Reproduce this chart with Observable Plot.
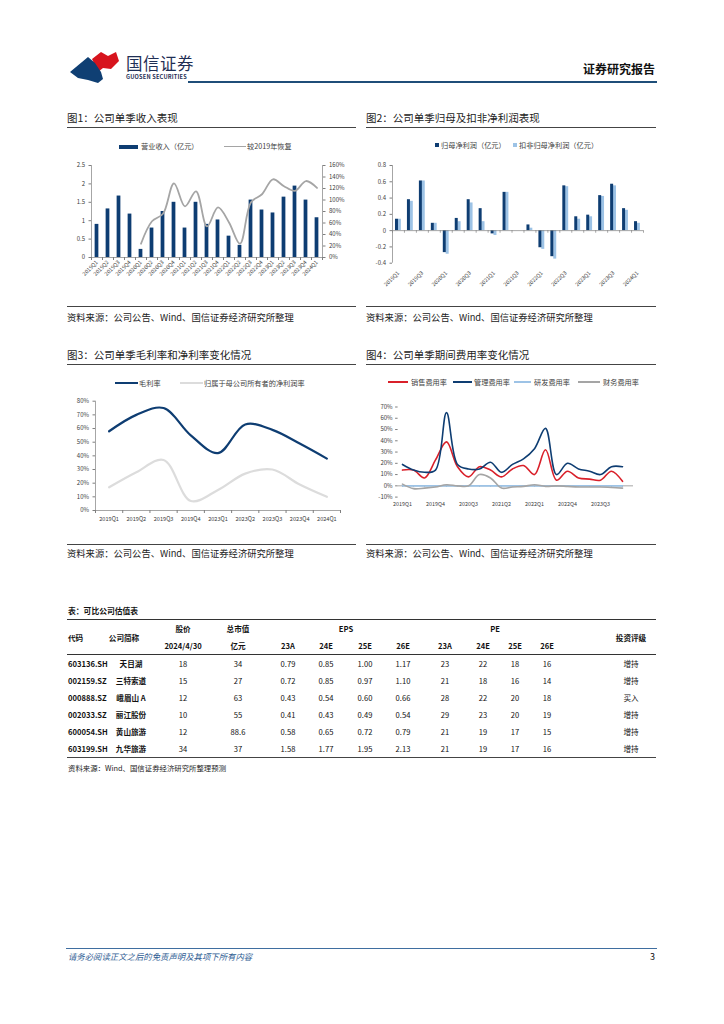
<!DOCTYPE html>
<html><head><meta charset="utf-8">
<script src="https://cdn.jsdelivr.net/npm/d3@7"></script>
<script src="https://cdn.jsdelivr.net/npm/@observablehq/plot@0.6"></script>
<style>
html,body{margin:0;padding:0;background:#fff;}
body{width:724px;height:1024px;position:relative;overflow:hidden;font-family:"Noto Sans CJK SC","Noto Sans",sans-serif;color:#222;}
.a{position:absolute;white-space:nowrap;}
.ttl{font-size:10.5px;line-height:12px;color:#222;}
.hr{position:absolute;height:1px;background:#444;}
.src{font-size:9.3px;line-height:12px;color:#222;}
.lg{font-size:7.2px;line-height:9px;color:#404040;}
.tb{font-size:7.6px;line-height:10px;color:#111;}
.b{font-weight:bold;}
</style></head><body>

<svg class="a" style="left:68px;top:50px" width="56" height="36" viewBox="0 0 56 36">
  <path d="M24,9 L33,2 L40,6 L48,2 L51,11 L43,19 L35,18 L30,22 Z" fill="#d7141d"/>
  <path d="M2,22 L20,7 L27,13 L33,22 L35,29 L30,33 L20,30 L10,28 Z" fill="#0f3f73"/>
</svg>
<div class="a" style="left:126px;top:53px;font-size:16.5px;line-height:20px;color:#1f2f55;letter-spacing:0.5px">国信证券</div>
<div class="a" style="left:126px;top:74px;font-size:5.6px;line-height:7px;color:#1f2f55;font-weight:bold;letter-spacing:0.2px">GUOSEN SECURITIES</div>
<div class="a b" style="left:583px;top:62px;font-size:12px;line-height:14px;color:#111">证券研究报告</div>
<div class="hr" style="left:188px;top:81px;width:469px;height:2px;background:#1f4e79"></div>

<div class="a ttl" style="left:67px;top:112px">图1：公司单季收入表现</div>
<div class="hr" style="left:67px;top:126.5px;width:289px"></div>
<div class="a ttl" style="left:366px;top:112px">图2：公司单季归母及扣非净利润表现</div>
<div class="hr" style="left:366px;top:126.5px;width:290px"></div>
<div class="hr" style="left:67px;top:306px;width:289px"></div>
<div class="hr" style="left:366px;top:306px;width:290px"></div>
<div class="a src" style="left:67px;top:311px">资料来源：公司公告、Wind、国信证券经济研究所整理</div>
<div class="a src" style="left:366px;top:311px">资料来源：公司公告、Wind、国信证券经济研究所整理</div>

<div class="a ttl" style="left:67px;top:349px">图3：公司单季毛利率和净利率变化情况</div>
<div class="hr" style="left:67px;top:363.5px;width:289px"></div>
<div class="a ttl" style="left:366px;top:349px">图4：公司单季期间费用率变化情况</div>
<div class="hr" style="left:366px;top:363.5px;width:290px"></div>
<div class="hr" style="left:67px;top:543.5px;width:289px"></div>
<div class="hr" style="left:366px;top:543.5px;width:290px"></div>
<div class="a src" style="left:67px;top:547px">资料来源：公司公告、Wind、国信证券经济研究所整理</div>
<div class="a src" style="left:366px;top:547px">资料来源：公司公告、Wind、国信证券经济研究所整理</div>

<!-- legends -->
<div class="a" style="left:119px;top:144.5px;width:19px;height:4px;background:#0e3d72"></div>
<div class="a lg" style="left:141px;top:142px">营业收入（亿元）</div>
<div class="a" style="left:224px;top:145.8px;width:22px;height:1.6px;background:#a5a5a5"></div>
<div class="a lg" style="left:247px;top:142px">较2019年恢复</div>

<div class="a" style="left:435px;top:143px;width:4px;height:4px;background:#0e3d72"></div>
<div class="a lg" style="left:441px;top:140.5px">归母净利润（亿元）</div>
<div class="a" style="left:513px;top:143px;width:4px;height:4px;background:#9dc3e6"></div>
<div class="a lg" style="left:519px;top:140.5px">扣非归母净利润（亿元）</div>

<div class="a" style="left:115px;top:382px;width:23px;height:2px;background:#0e3d72"></div>
<div class="a lg" style="left:139px;top:378.5px">毛利率</div>
<div class="a" style="left:180px;top:382px;width:23px;height:2px;background:#dcdcdc"></div>
<div class="a lg" style="left:204px;top:378.5px">归属于母公司所有者的净利润率</div>

<div class="a" style="left:388px;top:381px;width:20px;height:1.6px;background:#d9202a"></div>
<div class="a lg" style="left:411px;top:377.5px">销售费用率</div>
<div class="a" style="left:453px;top:381px;width:19px;height:1.6px;background:#0e3d72"></div>
<div class="a lg" style="left:474px;top:377.5px">管理费用率</div>
<div class="a" style="left:514px;top:381px;width:17px;height:1.6px;background:#9dc3e6"></div>
<div class="a lg" style="left:534px;top:377.5px">研发费用率</div>
<div class="a" style="left:578px;top:381px;width:22px;height:1.6px;background:#a5a5a5"></div>
<div class="a lg" style="left:603px;top:377.5px">财务费用率</div>

<!-- table frame -->
<div class="a b" style="left:68px;top:606px;font-size:7.8px;line-height:10px;color:#111">表：可比公司估值表</div>
<div class="hr" style="left:67px;top:619px;width:589px;background:#333"></div>
<div class="hr" style="left:67px;top:653.5px;width:589px;height:1.6px;background:#333"></div>
<div class="hr" style="left:67px;top:757px;width:589px;height:1.2px;background:#444"></div>
<div class="a" style="left:68px;top:763px;font-size:7.4px;line-height:10px;color:#222">资料来源：Wind、国信证券经济研究所整理预测</div>

<div class="hr" style="left:66px;top:947.5px;width:591px;background:#3f6ea0"></div>
<div class="a" style="left:68px;top:951px;font-size:8.4px;line-height:11px;color:#2f5d93;font-style:italic">请务必阅读正文之后的免责声明及其项下所有内容</div>
<div class="a" style="left:650px;top:951px;font-size:9px;line-height:11px;color:#111">3</div>

<script>
// ---------- data ----------
const quarters = ["2019Q1","2019Q2","2019Q3","2019Q4","2020Q1","2020Q2","2020Q3","2020Q4","2021Q1","2021Q2","2021Q3","2021Q4","2022Q1","2022Q2","2022Q3","2022Q4","2023Q1","2023Q2","2023Q3","2023Q4","2024Q1"];
// Fig1
const revenue = [0.90,1.32,1.67,1.18,0.22,0.80,1.25,1.50,0.80,1.50,0.90,1.02,0.58,0.33,1.56,1.29,1.21,1.64,1.94,1.56,1.08];
const recoveryVs2019 = [null,null,null,null,24,63,76,129,89,115,54,87,61,24,96,110,136,124,116,133,121];
const fig1LeftTicks = [0,0.5,1,1.5,2,2.5];
const fig1RightTicks = [0,20,40,60,80,100,120,140,160];
// Fig2
const netProfit = [0.14,0.38,0.61,0.09,-0.27,0.15,0.38,0.27,-0.04,0.47,0.00,0.07,-0.21,-0.32,0.55,0.17,0.19,0.43,0.57,0.27,0.11];
const deductedProfit = [0.14,0.36,0.61,0.09,-0.29,0.11,0.34,0.11,-0.06,0.47,0.00,0.03,-0.23,-0.35,0.54,0.14,0.17,0.42,0.55,0.25,0.09];
const fig2Ticks = [-0.4,-0.2,0,0.2,0.4,0.6,0.8];
// Fig3
const marginQuarters = ["2019Q1","2019Q2","2019Q3","2019Q4","2023Q1","2023Q2","2023Q3","2023Q4","2024Q1"];
const grossMargin = [58,70,75,55,42,63,59,49,38];
const netMargin = [17,28,37,7,15,27,30,19,10];
const fig3Ticks = [0,10,20,30,40,50,60,70,80];
// Fig4
const sellingRate = [14,14,7,23,39,17,8,17,14,8,15,18,10,32,5,13,7,6,5,13,4];
const adminRate = [19,14,12,14,65,19,15,15,21,12,19,24,33,51,10,20,15,13,10,17,17];
const rdRate = [0,0,0,0,0,0,0,0,0,0,0,0,0,0,0,0,0,0,0,0,0];
const financeRate = [1.5,-2.5,-2,-1,1,0,0,10,7,-2,-1,-0.5,1,-0.5,0,-0.5,-1,-1,-1,-1.5,-2];
const fig4Ticks = [-10,0,10,20,30,40,50,60,70];
const fig4Labels = ["2019Q1","2019Q4","2020Q3","2021Q2","2022Q1","2022Q4","2023Q3"];
// Table
const tableCodes = ["603136.SH","002159.SZ","000888.SZ","002033.SZ","600054.SH","603199.SH"];
const tableNames = ["天目湖","三特索道","峨眉山 A","丽江股份","黄山旅游","九华旅游"];
const tablePrice = ["18","15","12","10","12","34"];
const tableMcap = ["34","27","63","55","88.6","37"];
const eps23A = ["0.79","0.72","0.43","0.41","0.58","1.58"];
const eps24E = ["0.85","0.85","0.54","0.43","0.65","1.77"];
const eps25E = ["1.00","0.97","0.60","0.49","0.72","1.95"];
const eps26E = ["1.17","1.10","0.66","0.54","0.79","2.13"];
const pe23A = ["23","21","28","29","21","21"];
const pe24E = ["22","18","22","23","19","19"];
const pe25E = ["18","16","20","20","17","17"];
const pe26E = ["16","14","18","19","15","16"];
const tableRating = ["增持","增持","买入","增持","增持","增持"];

// ---------- helpers ----------
const FONT = "'Noto Sans CJK SC','Noto Sans',sans-serif";
const AX = "#7f7f7f";
function place(el, left, top){ el.style.position="absolute"; el.style.left=left+"px"; el.style.top=top+"px"; document.body.appendChild(el); }
const baseStyle = {fontFamily:FONT, fontSize:"6px", color:"#404040", background:"transparent", overflow:"visible"};

// ---------- Fig1 ----------
{
  const k = 2.5/160;
  const bars = quarters.map((q,i)=>({i, v:revenue[i]}));
  const line = quarters.map((q,i)=>({i, v:recoveryVs2019[i]})).filter(d=>d.v!=null);
  const bounds = d3.range(-0.5, 21, 1);
  const c = Plot.plot({
    width:300, height:145, marginLeft:29, marginRight:40, marginTop:10, marginBottom:43,
    style:baseStyle,
    x:{domain:[-0.5,20.5]}, y:{domain:[0,2.5]},
    marks:[
      Plot.rectY(bars,{x1:d=>d.i-0.17, x2:d=>d.i+0.17, y1:0, y2:"v", fill:"#0e3d72"}),
      Plot.line(line,{x:"i", y:d=>d.v*k, stroke:"#a5a5a5", strokeWidth:1.8, curve:"catmull-rom"}),
      Plot.ruleX([-0.5],{stroke:AX, strokeWidth:0.7}),
      Plot.ruleX([20.5],{stroke:AX, strokeWidth:0.7}),
      Plot.ruleY([0],{stroke:AX, strokeWidth:0.7}),
      Plot.axisY({ticks:fig1LeftTicks, tickFormat:d=>String(d), tickSize:2.5, tickPadding:4, label:null, stroke:AX}),
      Plot.axisY({anchor:"right", ticks:fig1RightTicks.map(t=>t*k), tickFormat:d=>Math.round(d/k)+"%", tickSize:2.5, tickPadding:4, label:null, stroke:AX}),
      Plot.axisX({ticks:bounds, tickFormat:()=>"", tickSize:3, label:null, stroke:AX}),
      Plot.axisX({ticks:d3.range(21), tickFormat:i=>quarters[i], tickSize:0, tickPadding:4, tickRotate:-45, fontSize:5.4, label:null})
    ]
  });
  place(c, 62, 155);
}

// ---------- Fig2 ----------
{
  const dark = quarters.map((q,i)=>({i, v:netProfit[i]}));
  const light = quarters.map((q,i)=>({i, v:deductedProfit[i]}));
  const bounds = d3.range(-0.5, 21, 1);
  const c = Plot.plot({
    width:296, height:145, marginLeft:30, marginRight:15, marginTop:10, marginBottom:37.3,
    style:baseStyle,
    x:{domain:[-0.5,20.5]}, y:{domain:[-0.4,0.8]},
    marks:[
      Plot.rectY(light,{x1:d=>d.i-0.01, x2:d=>d.i+0.24, y1:0, y2:"v", fill:"#9dc3e6"}),
      Plot.rectY(dark,{x1:d=>d.i-0.25, x2:d=>d.i, y1:0, y2:"v", fill:"#0e3d72"}),
      Plot.ruleX([-0.5],{stroke:AX, strokeWidth:0.7}),
      Plot.ruleY([0],{stroke:AX, strokeWidth:0.7}),
      Plot.ruleX(bounds,{x:d=>d, y1:0, y2:-0.032, stroke:AX, strokeWidth:0.7}),
      Plot.axisY({ticks:fig2Ticks, tickFormat:d=>d===0?"0":d.toFixed(1), tickSize:2.5, tickPadding:4, label:null, stroke:AX}),
      Plot.axisX({ticks:d3.range(0,21,2), tickFormat:i=>quarters[i], tickSize:0, tickPadding:9, tickRotate:-45, fontSize:5.4, label:null})
    ]
  });
  place(c, 362, 155);
}

// ---------- Fig3 ----------
{
  const g = marginQuarters.map((q,i)=>({i, v:grossMargin[i]}));
  const n = marginQuarters.map((q,i)=>({i, v:netMargin[i]}));
  const c = Plot.plot({
    width:298, height:140, marginLeft:33, marginRight:20, marginTop:10.7, marginBottom:20,
    style:baseStyle,
    x:{domain:[-0.5,8.5]}, y:{domain:[0,80]},
    marks:[
      Plot.line(n,{x:"i", y:"v", stroke:"#dcdcdc", strokeWidth:2.2, curve:"catmull-rom"}),
      Plot.line(g,{x:"i", y:"v", stroke:"#0e3d72", strokeWidth:2.2, curve:"catmull-rom"}),
      Plot.ruleX([-0.5],{stroke:AX, strokeWidth:0.7}),
      Plot.ruleY([0],{stroke:AX, strokeWidth:0.7}),
      Plot.axisY({ticks:fig3Ticks, tickFormat:d=>d+"%", tickSize:2.5, tickPadding:4, label:null, stroke:AX}),
      Plot.axisX({ticks:d3.range(-0.5,9,1), tickFormat:()=>"", tickSize:3, label:null, stroke:AX}),
      Plot.axisX({ticks:d3.range(9), tickFormat:i=>marginQuarters[i], tickSize:0, tickPadding:7, fontSize:5.6, label:null})
    ]
  });
  place(c, 62, 390);
}

// ---------- Fig4 ----------
{
  const mk = arr => quarters.map((q,i)=>({i, v:arr[i]}));
  const c = Plot.plot({
    width:296, height:130, marginLeft:35.6, marginRight:25, marginTop:11.5, marginBottom:28.4,
    style:baseStyle,
    x:{domain:[-0.4,21]}, y:{domain:[-10,70]},
    marks:[
      Plot.ruleY([0],{stroke:AX, strokeWidth:0.7}),
      Plot.ruleX(d3.range(21),{x:d=>d, y1:0, y2:-1.2, stroke:AX, strokeWidth:0.7}),
      Plot.line(mk(rdRate),{x:"i", y:"v", stroke:"#9dc3e6", strokeWidth:1.6}),
      Plot.line(mk(financeRate),{x:"i", y:"v", stroke:"#a5a5a5", strokeWidth:1.6, curve:"catmull-rom"}),
      Plot.line(mk(sellingRate),{x:"i", y:"v", stroke:"#d9202a", strokeWidth:1.6, curve:"catmull-rom"}),
      Plot.line(mk(adminRate),{x:"i", y:"v", stroke:"#0e3d72", strokeWidth:1.6, curve:"catmull-rom"}),
      Plot.axisY({ticks:fig4Ticks, tickFormat:d=>d+"%", tickSize:2.5, tickPadding:3, label:null, stroke:AX}),
      Plot.axisX({ticks:d3.range(0,21,3), tickFormat:i=>fig4Labels[i/3], tickSize:0, tickPadding:5, fontSize:5.4, label:null})
    ]
  });
  place(c, 362, 395);
}

// ---------- Table ----------
function cell(text, cx, cy, align, bold){
  const d = document.createElement("div");
  d.className = "a tb" + (bold ? " b" : "");
  d.textContent = text;
  d.style.left = cx + "px"; d.style.top = cy + "px";
  d.style.transform = align === "left" ? "translate(0,-50%)" : "translate(-50%,-50%)";
  document.body.appendChild(d);
}
cell("代码", 68, 637.5, "left", true);
cell("公司简称", 124, 637.5, "center", true);
cell("股价", 183, 629, "center", true);
cell("2024/4/30", 183, 645.5, "center", true);
cell("总市值", 238, 629, "center", true);
cell("亿元", 238, 645.5, "center", true);
cell("EPS", 346, 629, "center", true);
cell("PE", 495, 629, "center", true);
cell("投资评级", 631, 637.5, "center", true);
const epsX = [288,326,365,403], peX = [445,483,515,547];
const subHead = ["23A","24E","25E","26E"];
subHead.forEach((s,j)=>{ cell(s, epsX[j], 645.5, "center", true); cell(s, peX[j], 645.5, "center", true); });
const rowY = [664,681,698,715,732,749];
const epsCols = [eps23A,eps24E,eps25E,eps26E], peCols = [pe23A,pe24E,pe25E,pe26E];
tableCodes.forEach((code,r)=>{
  const y = rowY[r];
  cell(code, 68, y, "left", true);
  cell(tableNames[r], 131, y, "center", true);
  cell(tablePrice[r], 183, y, "center", false);
  cell(tableMcap[r], 238, y, "center", false);
  epsCols.forEach((col,j)=>cell(col[r], epsX[j], y, "center", false));
  peCols.forEach((col,j)=>cell(col[r], peX[j], y, "center", false));
  cell(tableRating[r], 631, y, "center", false);
});
</script>
</body></html>
